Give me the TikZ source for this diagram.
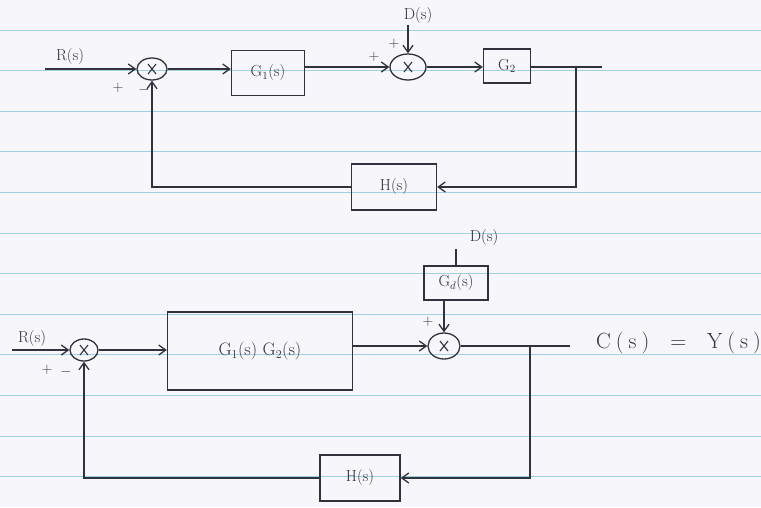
\documentclass[tikz,border=0pt]{standalone}
\usetikzlibrary{shapes.geometric,arrows.meta}
\definecolor{ink}{RGB}{50,50,62}
\definecolor{paper}{RGB}{247,246,251}
\definecolor{rule}{RGB}{160,208,226}
\tikzset{
  blk/.style={draw=ink, line width=1.4pt, rectangle, inner sep=0pt, text=ink, font=\fontsize{16}{18}\selectfont},
  sumj/.style={draw=ink, line width=1.3pt, ellipse, inner sep=0pt,
    path picture={
      \draw[ink, line width=1.1pt] ([xshift=-4pt,yshift=5pt]path picture bounding box.center) -- ([xshift=4pt,yshift=-5pt]path picture bounding box.center);
      \draw[ink, line width=1.1pt] ([xshift=4pt,yshift=5pt]path picture bounding box.center) -- ([xshift=-4pt,yshift=-5pt]path picture bounding box.center);
    }},
  wire/.style={draw=ink, line width=1.3pt},
  arr/.style={wire, -{Straight Barb[length=7pt,width=10pt,line width=1.3pt]}},
  lbl/.style={text=ink, font=\fontsize{16}{18}\selectfont, inner sep=0pt},
  sgn/.style={text=ink, font=\fontsize{15}{17}\selectfont, inner sep=0pt}
}
\begin{document}
\begin{tikzpicture}[x=1pt,y=-1pt]
\fill[paper] (0,0) rectangle (761,507);
\useasboundingbox (0,0) rectangle (761,507);
% ruled paper lines
\foreach \k in {0,...,11} {
  \draw[rule, line width=1pt] (0,{30+40.6*\k}) -- (761,{30+40.6*\k});
}

% ---------------- top diagram ----------------
\coordinate (rinA) at (45,69);
\node[lbl] (rA) at (70,57) {R(s)};
\node[sumj, minimum width=30pt, minimum height=22pt] (sumA) at (152,69) {};
\node[blk, minimum width=73pt, minimum height=45pt] (g1) at (268,73) {G$_1$(s)};
\node[sumj, minimum width=36pt, minimum height=26pt] (sumB) at (408,67) {};
\coordinate (dA) at (408,25);
\node[lbl] (dAl) at (418,16) {D(s)};
\node[blk, minimum width=47pt, minimum height=34pt] (g2) at (507,66) {G$_2$};
\coordinate (outA) at (602,67);
\coordinate (brA) at (576,67);
\node[blk, minimum width=85pt, minimum height=46pt] (h1) at (394,187) {H(s)};
\node[sgn] (pA1) at (118,88) {+};
\node[sgn] (mA1) at (144,90) {$-$};
\node[sgn] (pB1) at (374,57) {+};
\node[sgn] (pB2) at (394,44) {+};

\draw[arr] (rinA) -- (sumA.west);
\draw[arr] (sumA.east) -- (sumA.east -| g1.west);
\draw[arr] (g1.east |- sumB) -- (sumB.west);
\draw[arr] (dA) -- (sumB.north);
\draw[arr] (sumB.east) -- (sumB.east -| g2.west);
\draw[wire] (g2.east |- outA) -- (outA);
\draw[arr] (brA) |- (h1.east);
\draw[arr] (h1.west) -| (sumA.south);

% ---------------- bottom diagram ----------------
\coordinate (rinC) at (12,350);
\node[lbl] (rC) at (32,339) {R(s)};
\node[sumj, minimum width=28pt, minimum height=22pt] (sumC) at (84,350) {};
\node[blk, minimum width=185pt, minimum height=78pt, font=\fontsize{18}{20}\selectfont] (g12) at (260,351) {G$_1$(s) G$_2$(s)};
\node[sumj, minimum width=32pt, minimum height=26pt] (sumD) at (444,346) {};
\node[blk, minimum width=64pt, minimum height=34pt] (gd) at (456,283) {G$_d$(s)};
\coordinate (dC) at (456,249);
\node[lbl] (dCl) at (484,238) {D(s)};
\coordinate (outC) at (570,346);
\node[lbl, font=\fontsize{22}{24}\selectfont, anchor=west] (yC) at (596,343)
  {C\hspace{5pt}(\hspace{5pt}s\hspace{5pt})\hspace{21pt}=\hspace{21pt}Y\hspace{5pt}(\hspace{5pt}s\hspace{5pt})};
\coordinate (brC) at (530,346);
\node[blk, minimum width=80pt, minimum height=46pt] (h2) at (360,478) {H(s)};
\node[sgn] (pC1) at (47,370) {+};
\node[sgn] (mC1) at (66,372) {$-$};
\node[sgn] (pD1) at (428,322) {+};

\draw[arr] (rinC) -- (sumC.west);
\draw[arr] (sumC.east) -- (sumC.east -| g12.west);
\draw[arr] (g12.east |- sumD) -- (sumD.west);
\draw[wire] (dC) -- (gd.north -| dC);
\draw[arr] (gd.south -| sumD) -- (sumD.north);
\draw[wire] (sumD.east) -- (outC);
\draw[arr] (brC) |- (h2.east);
\draw[arr] (h2.west) -| (sumC.south);
\end{tikzpicture}
\end{document}
